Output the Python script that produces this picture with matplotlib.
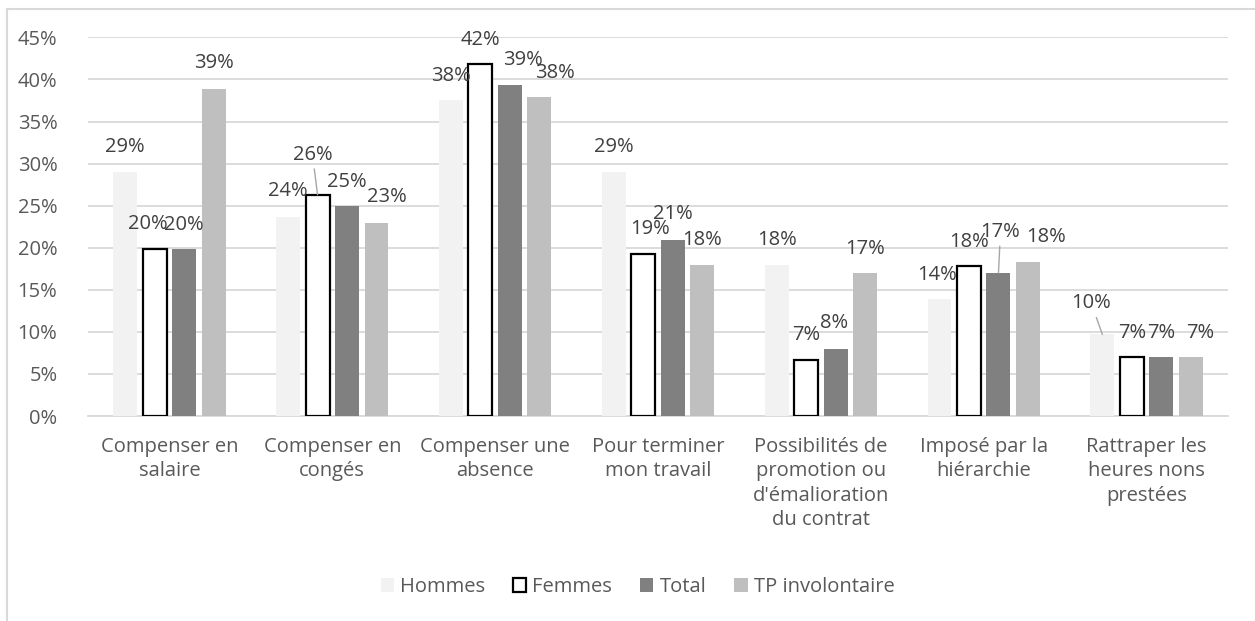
import numpy as np
import matplotlib
matplotlib.use("Agg")
import matplotlib.pyplot as plt
from matplotlib.patches import Rectangle

# data
categories = ["Compenser en\nsalaire", "Compenser en\ncongés", "Compenser une\nabsence",
              "Pour terminer\nmon travail", "Possibilités de\npromotion ou\nd'émalioration\ndu contrat",
              "Imposé par la\nhiérarchie", "Rattraper les\nheures nons\nprestées"]
series = ["Hommes", "Femmes", "Total", "TP involontaire"]
hommes = [29.0, 23.6, 37.5, 29.0, 17.9, 13.9, 9.7]
femmes = [19.8, 26.3, 41.8, 19.2, 6.7, 17.8, 7.05]
total = [19.9, 25.0, 39.3, 20.9, 8.0, 17.0, 7.0]
tp_invol = [38.9, 22.9, 37.9, 17.9, 17.0, 18.3, 7.0]
yticks = [0, 5, 10, 15, 20, 25, 30, 35, 40, 45]

# label offsets in pixels (dx, dy) and which ones get a leader line
offsets = [
    [(0, 25), (0, 26), (0, 24), (0, 25), (0, 25), (-2, 24), (-11, 31)],
    [(-7, 25), (-5, 40), (0, 24), (7, 25), (0, 25), (0, 24), (0, 24)],
    [(0, 24), (0, 24), (13, 25), (0, 26), (-2, 26), (2, 41), (0, 24)],
    [(0, 26), (10, 26), (16, 24), (0, 25), (0, 24), (18, 25), (9, 24)],
]
leaders = [(1, 1), (2, 5), (0, 6)]

colors = ["#F2F2F2", "white", "#808080", "#BFBFBF"]
edges = ["none", "black", "none", "none"]

plt.rcParams['font.family'] = ['Open Sans', 'DejaVu Sans']

fig = plt.figure(figsize=(12.55, 6.21), dpi=100)
ax = fig.add_axes([0.0701, 0.330, 0.9084, 0.6098])

x = np.arange(len(categories))
width = 0.147
step = 0.181
values = [hommes, femmes, total, tp_invol]

for j, vals in enumerate(values):
    pos = x + (j - 1.5) * step
    ax.bar(pos, vals, width, color=colors[j], edgecolor=edges[j],
           linewidth=1.6 if j == 1 else 0, label=series[j], zorder=3)
    for i, v in enumerate(vals):
        dx, dy = offsets[j][i]
        arrow = None
        if (j, i) in leaders:
            arrow = dict(arrowstyle='-', color='#A6A6A6', lw=1, shrinkA=1, shrinkB=0)
        ax.annotate(f"{round(v)}%", xy=(pos[i], v), xytext=(dx, dy),
                    textcoords='offset pixels', ha='center', va='center',
                    fontsize=14.5, color='#404040', arrowprops=arrow, zorder=4)

ax.set_xlim(-0.5, len(categories) - 0.5)
ax.set_ylim(0, 45)
ax.set_yticks(yticks)
ax.set_yticklabels([f"{t}%" for t in yticks])
ax.set_xticks(x)
ax.set_xticklabels(categories, linespacing=1.3)
ax.tick_params(axis='y', length=0, pad=22, labelsize=14.5, labelcolor='#595959')
ax.tick_params(axis='x', length=0, pad=15, labelsize=14.5, labelcolor='#595959')
ax.grid(axis='y', color='#D9D9D9', lw=1.3, zorder=0)
for s in ['top', 'right', 'left']:
    ax.spines[s].set_visible(False)
ax.spines['bottom'].set_color('#D9D9D9')
ax.spines['bottom'].set_linewidth(1.3)

ax.legend(loc='center', bbox_to_anchor=(0.508, 1 - 587 / 621), bbox_transform=fig.transFigure,
          ncol=4, frameon=False, fontsize=14.5, labelcolor='#595959',
          handlelength=0.65, handleheight=0.65, handletextpad=0.3, columnspacing=1.4)

# chart area border (top and left only visible)
fig.patches.append(Rectangle((7 / 1255, -0.1), 1.5, 1 - 9 / 621 + 0.1, transform=fig.transFigure,
                             fill=False, edgecolor='#D9D9D9', lw=1.5))

fig.savefig("out.png", dpi=100)
